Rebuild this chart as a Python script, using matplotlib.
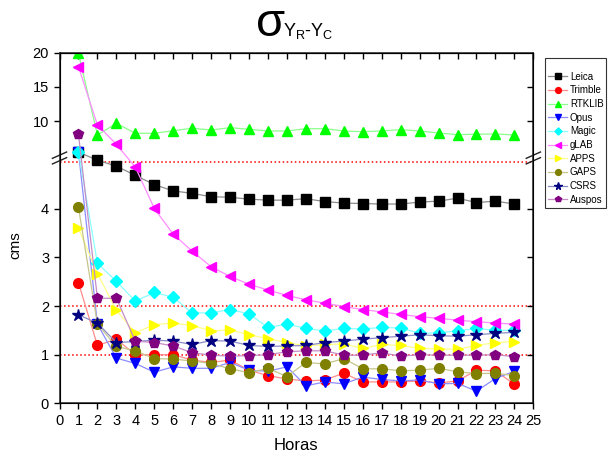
"""
Broken-axis sigma plot, Y_R - Y_C
"""

import numpy as np
import matplotlib
matplotlib.use("Agg")
import matplotlib.pyplot as plt

plt.rcParams['font.family'] = ['Liberation Sans', 'DejaVu Sans']

# data (cms) per hour
horas = np.arange(1, 25)

leica = [5.5, 5.0, 4.88, 4.69, 4.5, 4.37, 4.32, 4.25, 4.24, 4.2, 4.18, 4.18,
         4.21, 4.15, 4.12, 4.11, 4.1, 4.1, 4.14, 4.16, 4.22, 4.13, 4.16, 4.1]
trimble = [2.48, 1.19, 1.32, 1.0, 1.0, 1.0, 0.89, 0.84, 0.89, 0.68, 0.57, 0.5,
           0.46, 0.48, 0.62, 0.44, 0.44, 0.44, 0.46, 0.42, 0.46, 0.68, 0.67, 0.39]
rtklib = [19.9, 7.99, 9.7, 8.24, 8.24, 8.62, 8.97, 8.72, 9.06, 8.82, 8.58, 8.58,
          8.91, 8.91, 8.58, 8.47, 8.58, 8.77, 8.58, 8.28, 8.04, 8.1, 8.15, 7.99]
opus = [5.5, 1.63, 0.93, 0.82, 0.64, 0.75, 0.72, 0.72, 0.84, 0.68, 0.66, 0.75,
        0.36, 0.44, 0.4, 0.54, 0.49, 0.46, 0.48, 0.4, 0.41, 0.25, 0.51, 0.66]
magic = [5.55, 2.88, 2.51, 2.1, 2.28, 2.18, 1.86, 1.86, 1.93, 1.84, 1.56, 1.63,
         1.54, 1.49, 1.54, 1.53, 1.56, 1.55, 1.44, 1.45, 1.49, 1.54, 1.5, 1.5]
glab = [17.96, 9.45, 6.63, 4.86, 4.01, 3.48, 3.13, 2.81, 2.61, 2.45, 2.33, 2.22,
        2.13, 2.06, 1.99, 1.93, 1.88, 1.83, 1.78, 1.75, 1.71, 1.68, 1.65, 1.63]
apps = [3.6, 2.67, 1.91, 1.45, 1.62, 1.65, 1.6, 1.49, 1.51, 1.41, 1.33, 1.25,
        1.18, 1.21, 1.22, 1.13, 1.21, 1.19, 1.13, 1.12, 1.11, 1.19, 1.25, 1.27]
gaps = [4.03, 1.63, 1.17, 1.08, 0.92, 0.91, 0.87, 0.82, 0.71, 0.63, 0.72, 0.55,
        0.84, 0.81, 0.92, 0.71, 0.71, 0.67, 0.68, 0.72, 0.65, 0.61, 0.62, 0.57]
csrs = [1.82, 1.65, 1.25, 1.27, 1.3, 1.28, 1.21, 1.29, 1.28, 1.19, 1.17, 1.18,
        1.19, 1.25, 1.28, 1.32, 1.35, 1.38, 1.41, 1.39, 1.38, 1.41, 1.44, 1.46]
auspos = [8.09, 2.16, 2.16, 1.28, 1.25, 1.18, 1.04, 0.99, 0.97, 0.98, 1.0, 1.06,
          1.08, 1.08, 0.99, 0.99, 1.04, 0.97, 1.0, 0.99, 0.99, 0.99, 1.0, 0.96]

series = [
    ("Leica", leica, "#000000", "s"),
    ("Trimble", trimble, "#ff0000", "o"),
    ("RTKLIB", rtklib, "#00ff00", "^"),
    ("Opus", opus, "#0000ff", "v"),
    ("Magic", magic, "#00ffff", "D"),
    ("gLAB", glab, "#ff00ff", "<"),
    ("APPS", apps, "#ffff00", ">"),
    ("GAPS", gaps, "#808000", "o"),
    ("CSRS", csrs, "#000080", "*"),
    ("Auspos", auspos, "#800080", "p"),
]
ref_lines = [1, 2, 4.96]

# broken y scale: 0-5 tall, 5-20 squeezed
B, T, G = 48.6, 6.853, 4.8


def fwd(y):
    y = np.asarray(y, dtype=float)
    return np.where(y <= 5, y * B, 5 * B + G + (y - 5) * T)


def inv(p):
    p = np.asarray(p, dtype=float)
    return np.where(p <= 5 * B, p / B,
                    np.where(p < 5 * B + G, 5.0, 5 + (p - 5 * B - G) / T))


def lighten(c, f=0.45):
    rgb = np.array(matplotlib.colors.to_rgb(c))
    return tuple(1 - f * (1 - rgb))


fig = plt.figure(figsize=(6.08, 4.57), dpi=100)
ax = fig.add_axes([0.0979, 0.1175, 0.7793, 0.7672])
ax.set_yscale('function', functions=(fwd, inv))

for yv in ref_lines:
    ax.axhline(yv, color='red', ls=':', lw=1.1, zorder=1)

for name, vals, col, mk in series:
    ms = 9 if mk == '*' else 7
    if mk == 'D':
        ms = 6
    ax.plot(horas, vals, color=lighten(col), lw=0.9, marker=mk, ms=ms,
            mfc=col, mec=col, label=name, zorder=3)

ax.set_xlim(0, 25)
ax.set_ylim(0, 20)
ax.set_xticks(range(0, 26))
ax.set_yticks([0, 1, 2, 3, 4, 10, 15, 20])
ax.tick_params(direction='out', length=4, labelsize=10.5, width=1)
ax.minorticks_off()
for s in ax.spines.values():
    s.set_linewidth(1.1)
    s.set_color('#222222')

# mirrored ticks pointing inward
ax2 = ax.twinx()
ax2.set_yscale('function', functions=(fwd, inv))
ax2.set_ylim(0, 20)
ax2.set_yticks([1, 2, 3, 4, 10, 15])
ax2.tick_params(direction='in', length=4, labelright=False, width=1)
ax2.minorticks_off()
top = ax.secondary_xaxis('top')
top.set_xticks(range(0, 26))
top.tick_params(direction='in', length=4, labeltop=False, width=1)

# break marks
yb = 0.6997
for xs in (0, 1):
    for dy in (-0.008, 0.008):
        ax.plot([xs - 0.015, xs + 0.015], [yb + dy - 0.009, yb + dy + 0.009],
                transform=ax.transAxes, color='#222222', lw=1, clip_on=False,
                zorder=6)

# labels
fig.text(296 / 608, 1 - 446 / 457, "Horas", ha='center', va='center', fontsize=12)
fig.text(15 / 608, 1 - 245 / 457, "cms", ha='center', va='center',
         rotation=90, fontsize=11)
fig.text(256 / 608, 1 - 36 / 457, "σ", ha='left', va='baseline', fontsize=34)
fig.text(283 / 608, 1 - 36 / 457, r"Y$_\mathregular{R}$-Y$_\mathregular{C}$",
         ha='left', va='baseline', fontsize=13)

leg = ax.legend(loc='upper left', bbox_to_anchor=(545 / 608, 1 - 58 / 457),
                bbox_transform=fig.transFigure, fontsize=7, frameon=True,
                fancybox=False, edgecolor='black', markerscale=0.6,
                handlelength=2.0, handletextpad=0.25, labelspacing=0.38,
                borderpad=0.3, borderaxespad=0, title=' ', title_fontsize=6)
leg.get_frame().set_linewidth(0.8)

fig.savefig("out.png", dpi=100)
